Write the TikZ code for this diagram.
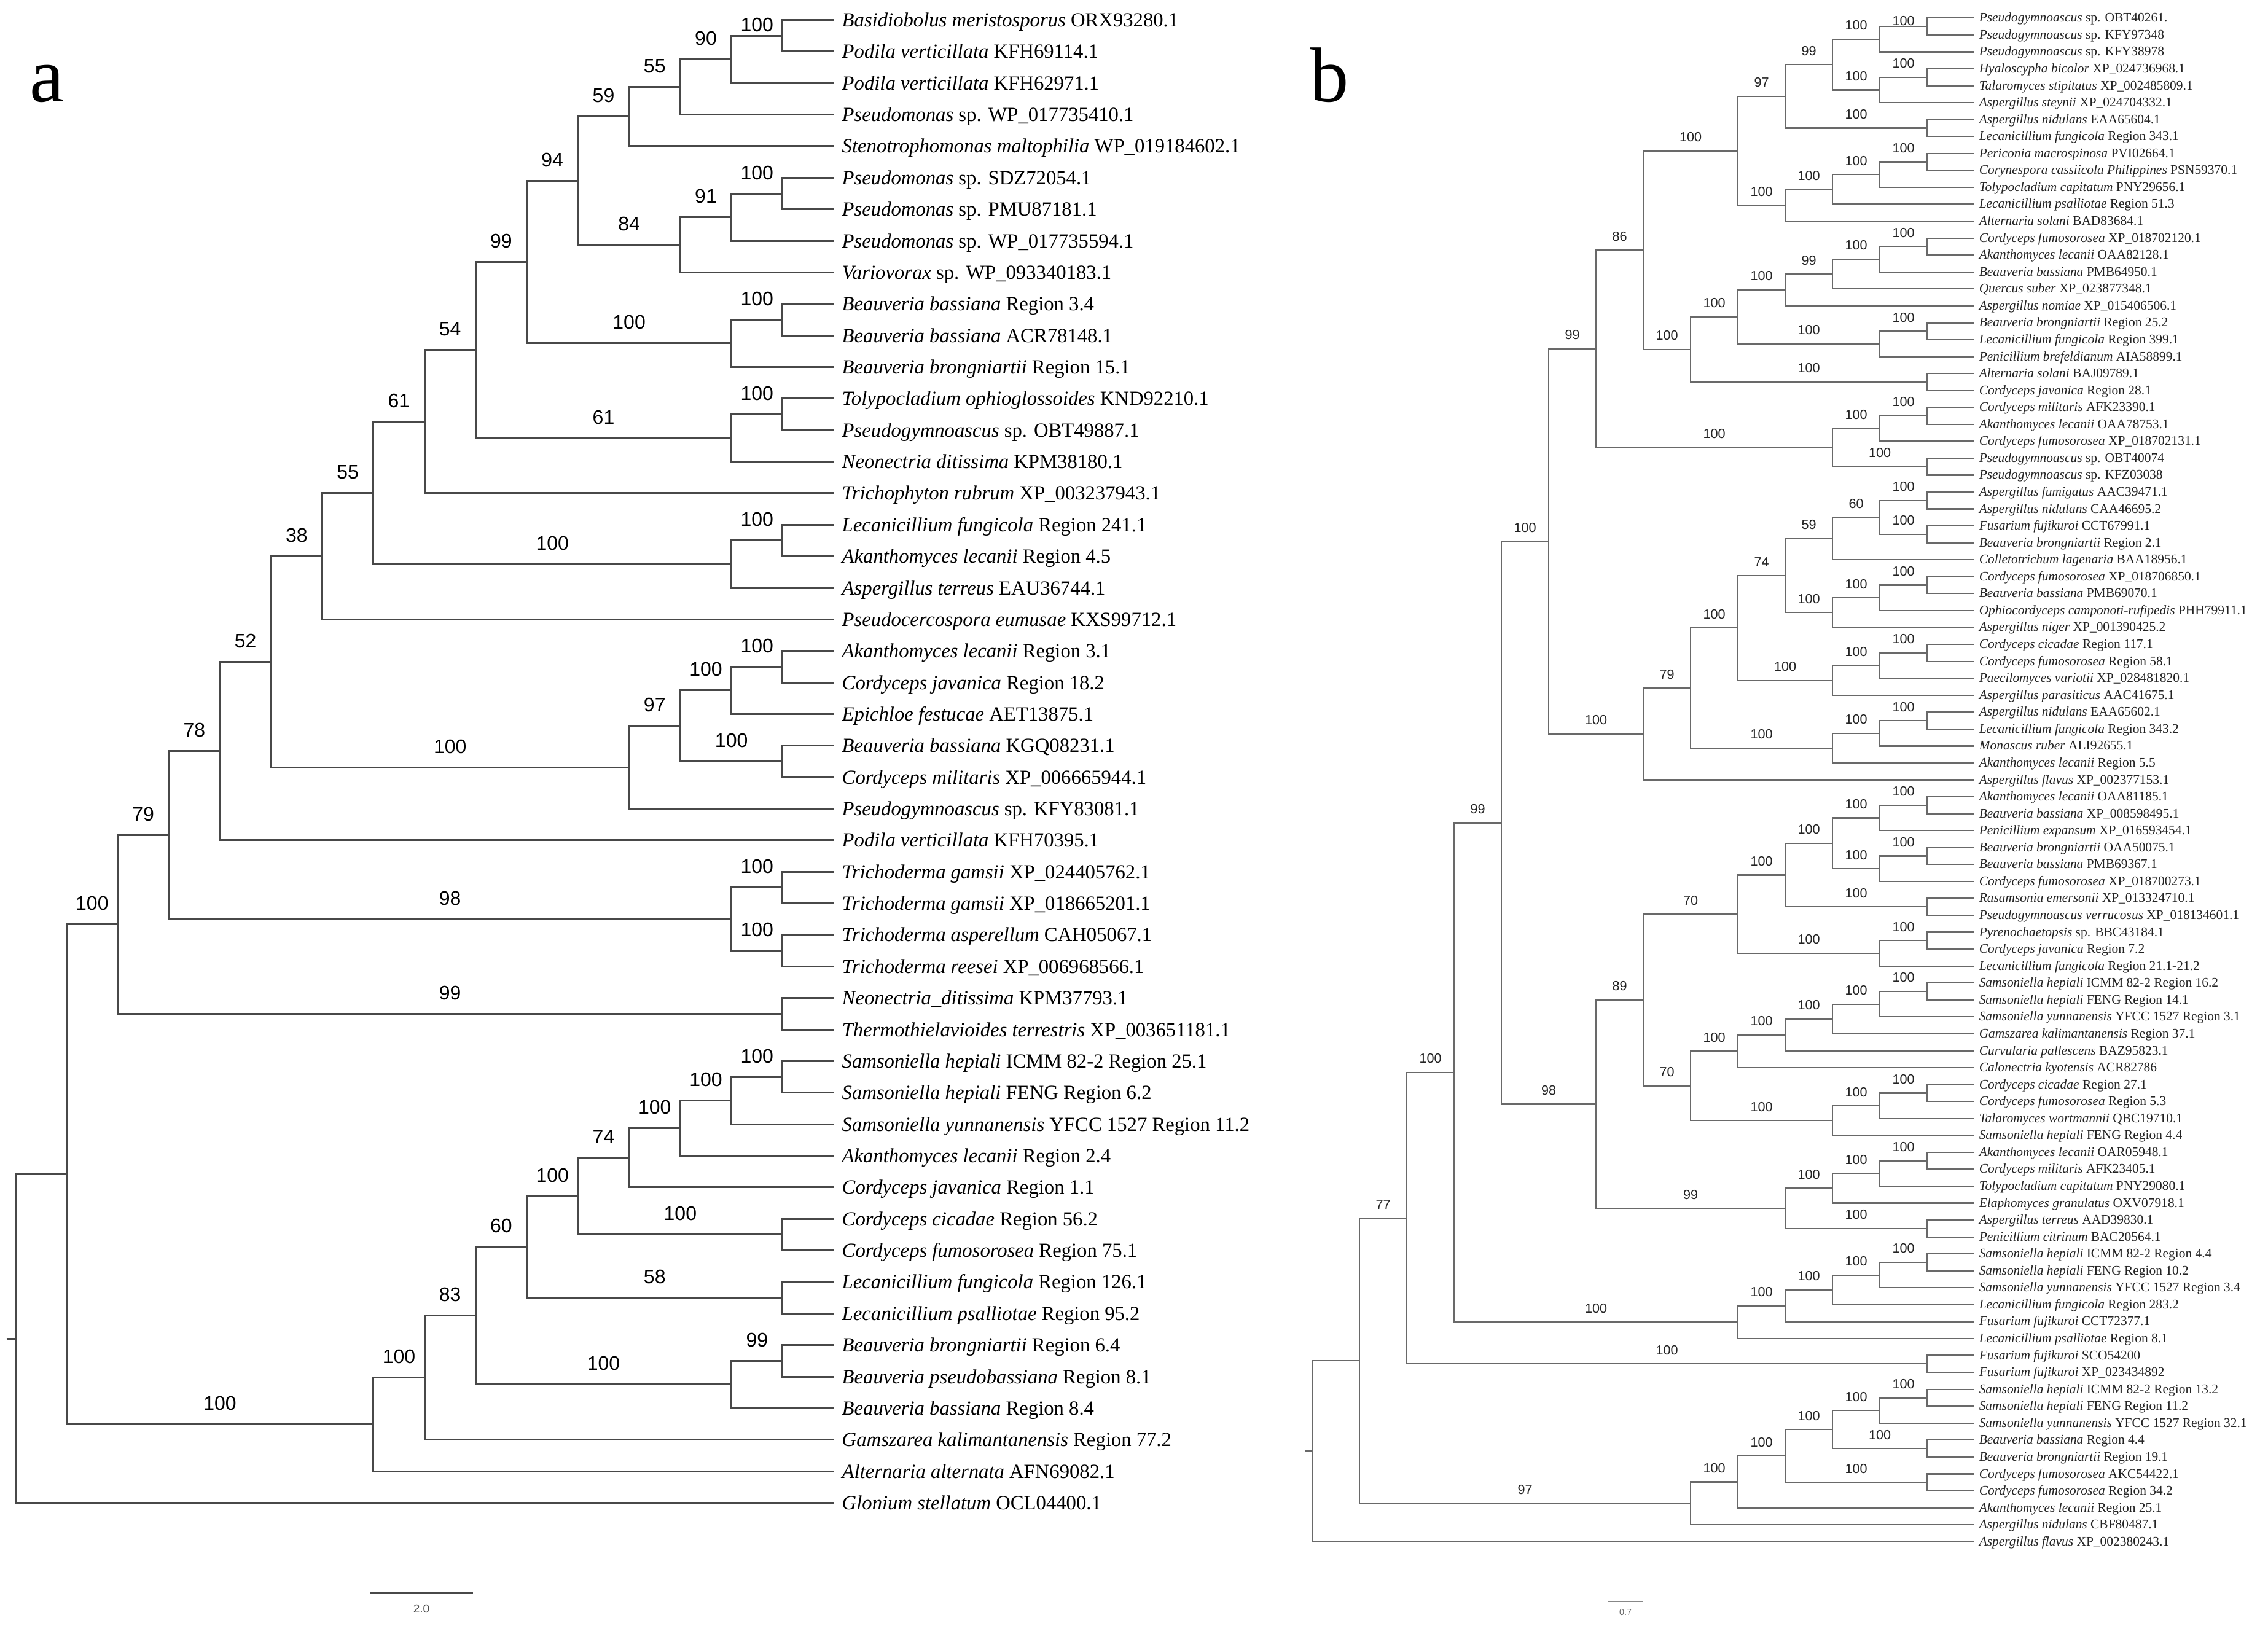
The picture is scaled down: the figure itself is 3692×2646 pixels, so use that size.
\documentclass[tikz,border=0pt]{standalone}
\usepackage{fontspec}
\setmainfont{Liberation Serif}
\setsansfont{Liberation Sans}
\usetikzlibrary{calc}
\definecolor{brA}{RGB}{72,72,72}
\definecolor{brB}{RGB}{105,105,105}
\definecolor{txB}{RGB}{35,35,35}
\newcounter{bslabel}
\newcommand\tbr[3]{%
  \ifx\relax#3\relax
    \draw[br] (#1) |- (#2);%
  \else
    \stepcounter{bslabel}%
    \draw[br] (#1) |- (#2) node[bs,pos=.75] (bsl\arabic{bslabel}) {#3};%
  \fi}
\newcommand\tn[6]{%
  \coordinate (tmp) at ($(#3)!.5!(#5)$);
  \coordinate (#1) at (#2 |- tmp);
  \tbr{#1}{#3}{#4}\tbr{#1}{#5}{#6}}
\newcommand\lfa[3]{%
  \coordinate (aL#1) at (1358,{32.5+51.36*(#1-1)});
  \node[lfa] (aT#1) at (1370,{32.5+51.36*(#1-1)+11}) {\textit{#2} #3};}
\newcommand\lfb[3]{%
  \coordinate (bL#1) at (3214,{29.3+27.56*(#1-1)});
  \node[lfb] (bT#1) at (3221,{29.3+27.56*(#1-1)+6.5}) {\textit{#2} #3};}
\begin{document}
\begin{tikzpicture}[x=0.1mm,y=-0.1mm,
  lfa/.style={anchor=base west,inner sep=0,font=\fontsize{9.3}{11}\selectfont},
  lfb/.style={anchor=base west,inner sep=0,text=txB,font=\fontsize{6.1}{7}\selectfont}]
\fill[white] (0,0) rectangle (3692,2646);
\useasboundingbox (0,0) rectangle (3692,2646);
\foreach \k in {0,...,16} \coordinate (La\k) at ({25+83.26*\k},0);
\foreach \k in {0,...,14} \coordinate (Lb\k) at ({2136.1+77*\k},0);

% ================= panel a =================
\node[anchor=base west,inner sep=0,font=\fontsize{36}{40}\selectfont] (pa) at (48,165) {a};
\lfa{1}{Basidiobolus meristosporus}{ORX93280.1}
\lfa{2}{Podila verticillata}{KFH69114.1}
\lfa{3}{Podila verticillata}{KFH62971.1}
\lfa{4}{Pseudomonas}{sp. WP\_017735410.1}
\lfa{5}{Stenotrophomonas maltophilia}{WP\_019184602.1}
\lfa{6}{Pseudomonas}{sp. SDZ72054.1}
\lfa{7}{Pseudomonas}{sp. PMU87181.1}
\lfa{8}{Pseudomonas}{sp. WP\_017735594.1}
\lfa{9}{Variovorax}{sp. WP\_093340183.1}
\lfa{10}{Beauveria bassiana}{Region 3.4}
\lfa{11}{Beauveria bassiana}{ACR78148.1}
\lfa{12}{Beauveria brongniartii}{Region 15.1}
\lfa{13}{Tolypocladium ophioglossoides}{KND92210.1}
\lfa{14}{Pseudogymnoascus}{sp. OBT49887.1}
\lfa{15}{Neonectria ditissima}{KPM38180.1}
\lfa{16}{Trichophyton rubrum}{XP\_003237943.1}
\lfa{17}{Lecanicillium fungicola}{Region 241.1}
\lfa{18}{Akanthomyces lecanii}{Region 4.5}
\lfa{19}{Aspergillus terreus}{EAU36744.1}
\lfa{20}{Pseudocercospora eumusae}{KXS99712.1}
\lfa{21}{Akanthomyces lecanii}{Region 3.1}
\lfa{22}{Cordyceps javanica}{Region 18.2}
\lfa{23}{Epichloe festucae}{AET13875.1}
\lfa{24}{Beauveria bassiana}{KGQ08231.1}
\lfa{25}{Cordyceps militaris}{XP\_006665944.1}
\lfa{26}{Pseudogymnoascus}{sp. KFY83081.1}
\lfa{27}{Podila verticillata}{KFH70395.1}
\lfa{28}{Trichoderma gamsii}{XP\_024405762.1}
\lfa{29}{Trichoderma gamsii}{XP\_018665201.1}
\lfa{30}{Trichoderma asperellum}{CAH05067.1}
\lfa{31}{Trichoderma reesei}{XP\_006968566.1}
\lfa{32}{Neonectria\_ditissima}{KPM37793.1}
\lfa{33}{Thermothielavioides terrestris}{XP\_003651181.1}
\lfa{34}{Samsoniella hepiali}{ICMM 82-2 Region 25.1}
\lfa{35}{Samsoniella hepiali}{FENG Region 6.2}
\lfa{36}{Samsoniella yunnanensis}{YFCC 1527 Region 11.2}
\lfa{37}{Akanthomyces lecanii}{Region 2.4}
\lfa{38}{Cordyceps javanica}{Region 1.1}
\lfa{39}{Cordyceps cicadae}{Region 56.2}
\lfa{40}{Cordyceps fumosorosea}{Region 75.1}
\lfa{41}{Lecanicillium fungicola}{Region 126.1}
\lfa{42}{Lecanicillium psalliotae}{Region 95.2}
\lfa{43}{Beauveria brongniartii}{Region 6.4}
\lfa{44}{Beauveria pseudobassiana}{Region 8.1}
\lfa{45}{Beauveria bassiana}{Region 8.4}
\lfa{46}{Gamszarea kalimantanensis}{Region 77.2}
\lfa{47}{Alternaria alternata}{AFN69082.1}
\lfa{48}{Glonium stellatum}{OCL04400.1}

\begin{scope}[br/.style={draw=brA,line width=0.3mm},
  bs/.style={inner sep=0,yshift=3.4mm,font=\sffamily\fontsize{9.1}{10}\selectfont}]
\tn{A1}{La15}{aL1}{}{aL2}{}
\begin{scope}[bs/.style={inner sep=0,yshift=1.73mm,font=\sffamily\fontsize{9.1}{10}\selectfont}]
\tn{A2}{La14}{A1}{100}{aL3}{}
\end{scope}
\tn{A3}{La13}{A2}{90}{aL4}{}
\tn{A4}{La12}{A3}{55}{aL5}{}
\tn{A5}{La15}{aL6}{}{aL7}{}
\tn{A6}{La14}{A5}{100}{aL8}{}
\tn{A7}{La13}{A6}{91}{aL9}{}
\tn{A8}{La11}{A4}{59}{A7}{84}
\tn{A9}{La15}{aL10}{}{aL11}{}
\tn{A10}{La14}{A9}{100}{aL12}{}
\tn{A11}{La10}{A8}{94}{A10}{100}
\tn{A12}{La15}{aL13}{}{aL14}{}
\tn{A13}{La14}{A12}{100}{aL15}{}
\tn{A14}{La9}{A11}{99}{A13}{61}
\tn{A15}{La8}{A14}{54}{aL16}{}
\tn{A16}{La15}{aL17}{}{aL18}{}
\tn{A17}{La14}{A16}{100}{aL19}{}
\tn{A18}{La7}{A15}{61}{A17}{100}
\tn{A19}{La6}{A18}{55}{aL20}{}
\tn{A20}{La15}{aL21}{}{aL22}{}
\tn{A21}{La14}{A20}{100}{aL23}{}
\tn{A22}{La15}{aL24}{}{aL25}{}
\tn{A23}{La13}{A21}{100}{A22}{100}
\tn{A24}{La12}{A23}{97}{aL26}{}
\tn{A25}{La5}{A19}{38}{A24}{100}
\tn{A26}{La4}{A25}{52}{aL27}{}
\tn{A27}{La15}{aL28}{}{aL29}{}
\tn{A28}{La15}{aL30}{}{aL31}{}
\tn{A29}{La14}{A27}{100}{A28}{100}
\tn{A30}{La3}{A26}{78}{A29}{98}
\tn{A31}{La15}{aL32}{}{aL33}{}
\tn{A32}{La2}{A30}{79}{A31}{99}
\tn{A33}{La15}{aL34}{}{aL35}{}
\tn{A34}{La14}{A33}{100}{aL36}{}
\tn{A35}{La13}{A34}{100}{aL37}{}
\tn{A36}{La12}{A35}{100}{aL38}{}
\tn{A37}{La15}{aL39}{}{aL40}{}
\tn{A38}{La11}{A36}{74}{A37}{100}
\tn{A39}{La15}{aL41}{}{aL42}{}
\tn{A40}{La10}{A38}{100}{A39}{58}
\tn{A41}{La15}{aL43}{}{aL44}{}
\tn{A42}{La14}{A41}{99}{aL45}{}
\tn{A43}{La9}{A40}{60}{A42}{100}
\tn{A44}{La8}{A43}{83}{aL46}{}
\tn{A45}{La7}{A44}{100}{aL47}{}
\tn{A46}{La1}{A32}{100}{A45}{100}
\tn{A47}{La0}{A46}{}{aL48}{}
\coordinate (A0) at ([xshift=-1.45mm]A47);
\draw[br] (A0) -- (A47);
% scale bar a
\coordinate (sa1) at (603,2593);
\coordinate (sa2) at (770,2593);
\draw[draw=brA,line width=0.38mm] (sa1) -- (sa2);
\node[inner sep=0,text=brA,font=\sffamily\fontsize{5.4}{6}\selectfont] (sal) at (686,2619) {2.0};
\end{scope}

% ================= panel b =================
\node[anchor=base west,inner sep=0,font=\fontsize{36}{40}\selectfont] (pb) at (2132,165) {b};
\lfb{1}{Pseudogymnoascus}{sp. OBT40261.}
\lfb{2}{Pseudogymnoascus}{sp. KFY97348}
\lfb{3}{Pseudogymnoascus}{sp. KFY38978}
\lfb{4}{Hyaloscypha bicolor}{XP\_024736968.1}
\lfb{5}{Talaromyces stipitatus}{XP\_002485809.1}
\lfb{6}{Aspergillus steynii}{XP\_024704332.1}
\lfb{7}{Aspergillus nidulans}{EAA65604.1}
\lfb{8}{Lecanicillium fungicola}{Region 343.1}
\lfb{9}{Periconia macrospinosa}{PVI02664.1}
\lfb{10}{Corynespora cassiicola Philippines}{PSN59370.1}
\lfb{11}{Tolypocladium capitatum}{PNY29656.1}
\lfb{12}{Lecanicillium psalliotae}{Region 51.3}
\lfb{13}{Alternaria solani}{BAD83684.1}
\lfb{14}{Cordyceps fumosorosea}{XP\_018702120.1}
\lfb{15}{Akanthomyces lecanii}{OAA82128.1}
\lfb{16}{Beauveria bassiana}{PMB64950.1}
\lfb{17}{Quercus suber}{XP\_023877348.1}
\lfb{18}{Aspergillus nomiae}{XP\_015406506.1}
\lfb{19}{Beauveria brongniartii}{Region 25.2}
\lfb{20}{Lecanicillium fungicola}{Region 399.1}
\lfb{21}{Penicillium brefeldianum}{AIA58899.1}
\lfb{22}{Alternaria solani}{BAJ09789.1}
\lfb{23}{Cordyceps javanica}{Region 28.1}
\lfb{24}{Cordyceps militaris}{AFK23390.1}
\lfb{25}{Akanthomyces lecanii}{OAA78753.1}
\lfb{26}{Cordyceps fumosorosea}{XP\_018702131.1}
\lfb{27}{Pseudogymnoascus}{sp. OBT40074}
\lfb{28}{Pseudogymnoascus}{sp. KFZ03038}
\lfb{29}{Aspergillus fumigatus}{AAC39471.1}
\lfb{30}{Aspergillus nidulans}{CAA46695.2}
\lfb{31}{Fusarium fujikuroi}{CCT67991.1}
\lfb{32}{Beauveria brongniartii}{Region 2.1}
\lfb{33}{Colletotrichum lagenaria}{BAA18956.1}
\lfb{34}{Cordyceps fumosorosea}{XP\_018706850.1}
\lfb{35}{Beauveria bassiana}{PMB69070.1}
\lfb{36}{Ophiocordyceps camponoti-rufipedis}{PHH79911.1}
\lfb{37}{Aspergillus niger}{XP\_001390425.2}
\lfb{38}{Cordyceps cicadae}{Region 117.1}
\lfb{39}{Cordyceps fumosorosea}{Region 58.1}
\lfb{40}{Paecilomyces variotii}{XP\_028481820.1}
\lfb{41}{Aspergillus parasiticus}{AAC41675.1}
\lfb{42}{Aspergillus nidulans}{EAA65602.1}
\lfb{43}{Lecanicillium fungicola}{Region 343.2}
\lfb{44}{Monascus ruber}{ALI92655.1}
\lfb{45}{Akanthomyces lecanii}{Region 5.5}
\lfb{46}{Aspergillus flavus}{XP\_002377153.1}
\lfb{47}{Akanthomyces lecanii}{OAA81185.1}
\lfb{48}{Beauveria bassiana}{XP\_008598495.1}
\lfb{49}{Penicillium expansum}{XP\_016593454.1}
\lfb{50}{Beauveria brongniartii}{OAA50075.1}
\lfb{51}{Beauveria bassiana}{PMB69367.1}
\lfb{52}{Cordyceps fumosorosea}{XP\_018700273.1}
\lfb{53}{Rasamsonia emersonii}{XP\_013324710.1}
\lfb{54}{Pseudogymnoascus verrucosus}{XP\_018134601.1}
\lfb{55}{Pyrenochaetopsis}{sp. BBC43184.1}
\lfb{56}{Cordyceps javanica}{Region 7.2}
\lfb{57}{Lecanicillium fungicola}{Region 21.1-21.2}
\lfb{58}{Samsoniella hepiali}{ICMM 82-2 Region 16.2}
\lfb{59}{Samsoniella hepiali}{FENG Region 14.1}
\lfb{60}{Samsoniella yunnanensis}{YFCC 1527 Region 3.1}
\lfb{61}{Gamszarea kalimantanensis}{Region 37.1}
\lfb{62}{Curvularia pallescens}{BAZ95823.1}
\lfb{63}{Calonectria kyotensis}{ACR82786}
\lfb{64}{Cordyceps cicadae}{Region 27.1}
\lfb{65}{Cordyceps fumosorosea}{Region 5.3}
\lfb{66}{Talaromyces wortmannii}{QBC19710.1}
\lfb{67}{Samsoniella hepiali}{FENG Region 4.4}
\lfb{68}{Akanthomyces lecanii}{OAR05948.1}
\lfb{69}{Cordyceps militaris}{AFK23405.1}
\lfb{70}{Tolypocladium capitatum}{PNY29080.1}
\lfb{71}{Elaphomyces granulatus}{OXV07918.1}
\lfb{72}{Aspergillus terreus}{AAD39830.1}
\lfb{73}{Penicillium citrinum}{BAC20564.1}
\lfb{74}{Samsoniella hepiali}{ICMM 82-2 Region 4.4}
\lfb{75}{Samsoniella hepiali}{FENG Region 10.2}
\lfb{76}{Samsoniella yunnanensis}{YFCC 1527 Region 3.4}
\lfb{77}{Lecanicillium fungicola}{Region 283.2}
\lfb{78}{Fusarium fujikuroi}{CCT72377.1}
\lfb{79}{Lecanicillium psalliotae}{Region 8.1}
\lfb{80}{Fusarium fujikuroi}{SCO54200}
\lfb{81}{Fusarium fujikuroi}{XP\_023434892}
\lfb{82}{Samsoniella hepiali}{ICMM 82-2 Region 13.2}
\lfb{83}{Samsoniella hepiali}{FENG Region 11.2}
\lfb{84}{Samsoniella yunnanensis}{YFCC 1527 Region 32.1}
\lfb{85}{Beauveria bassiana}{Region 4.4}
\lfb{86}{Beauveria brongniartii}{Region 19.1}
\lfb{87}{Cordyceps fumosorosea}{AKC54422.1}
\lfb{88}{Cordyceps fumosorosea}{Region 34.2}
\lfb{89}{Akanthomyces lecanii}{Region 25.1}
\lfb{90}{Aspergillus nidulans}{CBF80487.1}
\lfb{91}{Aspergillus flavus}{XP\_002380243.1}

\begin{scope}[br/.style={draw=brB,line width=0.22mm},
  bs/.style={inner sep=0,yshift=2.25mm,text=txB,font=\sffamily\fontsize{6.15}{7}\selectfont}]
\tn{B1}{Lb13}{bL1}{}{bL2}{}
\begin{scope}[bs/.style={inner sep=0,yshift=0.86mm,text=txB,font=\sffamily\fontsize{6.15}{7}\selectfont}]
\tn{B2}{Lb12}{B1}{100}{bL3}{}
\end{scope}
\tn{B3}{Lb13}{bL4}{}{bL5}{}
\tn{B4}{Lb12}{B3}{100}{bL6}{}
\tn{B5}{Lb11}{B2}{100}{B4}{100}
\tn{B6}{Lb13}{bL7}{}{bL8}{}
\tn{B7}{Lb10}{B5}{99}{B6}{100}
\tn{B8}{Lb13}{bL9}{}{bL10}{}
\tn{B9}{Lb12}{B8}{100}{bL11}{}
\tn{B10}{Lb11}{B9}{100}{bL12}{}
\tn{B11}{Lb10}{B10}{100}{bL13}{}
\tn{B12}{Lb9}{B7}{97}{B11}{100}
\tn{B13}{Lb13}{bL14}{}{bL15}{}
\tn{B14}{Lb12}{B13}{100}{bL16}{}
\tn{B15}{Lb11}{B14}{100}{bL17}{}
\tn{B16}{Lb10}{B15}{99}{bL18}{}
\tn{B17}{Lb13}{bL19}{}{bL20}{}
\tn{B18}{Lb12}{B17}{100}{bL21}{}
\tn{B19}{Lb9}{B16}{100}{B18}{100}
\tn{B20}{Lb13}{bL22}{}{bL23}{}
\tn{B21}{Lb8}{B19}{100}{B20}{100}
\tn{B22}{Lb7}{B12}{100}{B21}{100}
\tn{B23}{Lb13}{bL24}{}{bL25}{}
\tn{B24}{Lb12}{B23}{100}{bL26}{}
\tn{B25}{Lb13}{bL27}{}{bL28}{}
\tn{B26}{Lb11}{B24}{100}{B25}{100}
\tn{B27}{Lb6}{B22}{86}{B26}{100}
\tn{B28}{Lb13}{bL29}{}{bL30}{}
\tn{B29}{Lb13}{bL31}{}{bL32}{}
\tn{B30}{Lb12}{B28}{100}{B29}{100}
\tn{B31}{Lb11}{B30}{60}{bL33}{}
\tn{B32}{Lb13}{bL34}{}{bL35}{}
\tn{B33}{Lb12}{B32}{100}{bL36}{}
\tn{B34}{Lb11}{B33}{100}{bL37}{}
\tn{B35}{Lb10}{B31}{59}{B34}{100}
\tn{B36}{Lb13}{bL38}{}{bL39}{}
\tn{B37}{Lb12}{B36}{100}{bL40}{}
\tn{B38}{Lb11}{B37}{100}{bL41}{}
\tn{B39}{Lb9}{B35}{74}{B38}{100}
\tn{B40}{Lb13}{bL42}{}{bL43}{}
\tn{B41}{Lb12}{B40}{100}{bL44}{}
\tn{B42}{Lb11}{B41}{100}{bL45}{}
\tn{B43}{Lb8}{B39}{100}{B42}{100}
\tn{B44}{Lb7}{B43}{79}{bL46}{}
\tn{B45}{Lb5}{B27}{99}{B44}{100}
\tn{B46}{Lb13}{bL47}{}{bL48}{}
\tn{B47}{Lb12}{B46}{100}{bL49}{}
\tn{B48}{Lb13}{bL50}{}{bL51}{}
\tn{B49}{Lb12}{B48}{100}{bL52}{}
\tn{B50}{Lb11}{B47}{100}{B49}{100}
\tn{B51}{Lb13}{bL53}{}{bL54}{}
\tn{B52}{Lb10}{B50}{100}{B51}{100}
\tn{B53}{Lb13}{bL55}{}{bL56}{}
\tn{B54}{Lb12}{B53}{100}{bL57}{}
\tn{B55}{Lb9}{B52}{100}{B54}{100}
\tn{B56}{Lb13}{bL58}{}{bL59}{}
\tn{B57}{Lb12}{B56}{100}{bL60}{}
\tn{B58}{Lb11}{B57}{100}{bL61}{}
\tn{B59}{Lb10}{B58}{100}{bL62}{}
\tn{B60}{Lb9}{B59}{100}{bL63}{}
\tn{B61}{Lb13}{bL64}{}{bL65}{}
\tn{B62}{Lb12}{B61}{100}{bL66}{}
\tn{B63}{Lb11}{B62}{100}{bL67}{}
\tn{B64}{Lb8}{B60}{100}{B63}{100}
\tn{B65}{Lb7}{B55}{70}{B64}{70}
\tn{B66}{Lb13}{bL68}{}{bL69}{}
\tn{B67}{Lb12}{B66}{100}{bL70}{}
\tn{B68}{Lb11}{B67}{100}{bL71}{}
\tn{B69}{Lb13}{bL72}{}{bL73}{}
\tn{B70}{Lb10}{B68}{100}{B69}{100}
\tn{B71}{Lb6}{B65}{89}{B70}{99}
\tn{B72}{Lb4}{B45}{100}{B71}{98}
\tn{B73}{Lb13}{bL74}{}{bL75}{}
\tn{B74}{Lb12}{B73}{100}{bL76}{}
\tn{B75}{Lb11}{B74}{100}{bL77}{}
\tn{B76}{Lb10}{B75}{100}{bL78}{}
\tn{B77}{Lb9}{B76}{100}{bL79}{}
\tn{B78}{Lb3}{B72}{99}{B77}{100}
\tn{B79}{Lb13}{bL80}{}{bL81}{}
\tn{B80}{Lb2}{B78}{100}{B79}{100}
\tn{B81}{Lb13}{bL82}{}{bL83}{}
\tn{B82}{Lb12}{B81}{100}{bL84}{}
\tn{B83}{Lb13}{bL85}{}{bL86}{}
\tn{B84}{Lb11}{B82}{100}{B83}{100}
\tn{B85}{Lb13}{bL87}{}{bL88}{}
\tn{B86}{Lb10}{B84}{100}{B85}{100}
\tn{B87}{Lb9}{B86}{100}{bL89}{}
\tn{B88}{Lb8}{B87}{100}{bL90}{}
\tn{B89}{Lb1}{B80}{77}{B88}{97}
\tn{B90}{Lb0}{B89}{}{bL91}{}
\coordinate (B0) at ([xshift=-1.2mm]B90);
\draw[br] (B0) -- (B90);
% scale bar b
\coordinate (sb1) at (2618,2607);
\coordinate (sb2) at (2675,2607);
\draw[draw=brB!80,line width=0.28mm] (sb1) -- (sb2);
\node[inner sep=0,text=brB,font=\sffamily\fontsize{4.1}{5}\selectfont] (sbl) at (2646,2624) {0.7};
\end{scope}
\end{tikzpicture}
\end{document}
